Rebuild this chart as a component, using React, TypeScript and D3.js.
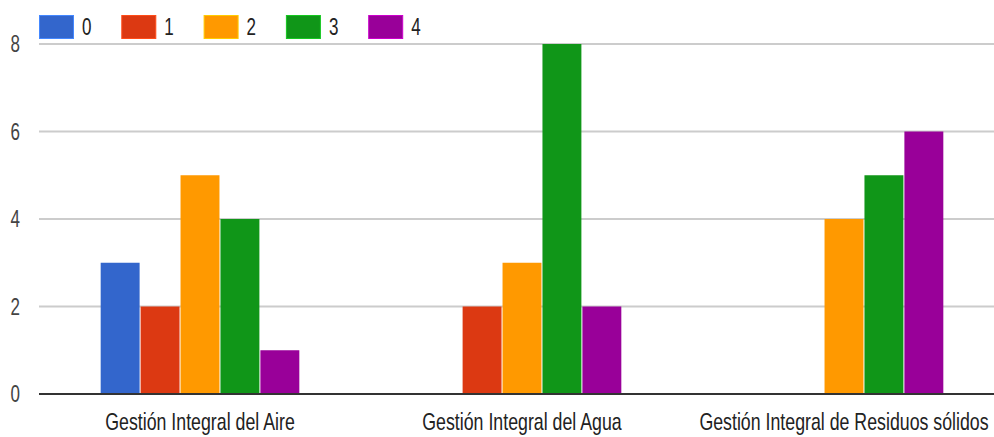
import React from "react";
import * as d3 from "d3";

const categories = [
  "Gestión Integral del Aire",
  "Gestión Integral del Agua",
  "Gestión Integral de Residuos sólidos",
];
const seriesNames = ["0", "1", "2", "3", "4"];
const seriesColors = ["#3366cc", "#dc3912", "#ff9900", "#109618", "#990099"];
const valuesAire = [3, 2, 5, 4, 1];
const valuesAgua = [0, 2, 3, 8, 2];
const valuesResiduos = [0, 0, 4, 5, 6];
const yTicks = [0, 2, 4, 6, 8];

const W = 994;
const H = 437;
const FONT = "'Liberation Sans', Arial, sans-serif";
const SX = 0.74; // narrow horizontal text scale

export default function App() {
  const rows = [valuesAire, valuesAgua, valuesResiduos];
  const x0 = d3
    .scaleBand<string>()
    .domain(categories)
    .range([39, 1005])
    .paddingInner(0.38)
    .paddingOuter(0.19);
  const x1 = d3
    .scaleBand<string>()
    .domain(seriesNames)
    .range([0, x0.bandwidth()])
    .padding(0);
  const y = d3.scaleLinear().domain([0, 8]).range([394, 44]);

  const legendStep = 82.3;

  return (
    <svg
      width={W}
      height={H}
      style={{ position: "absolute", left: 0, top: 0, background: "#fff" }}
      fontFamily={FONT}
    >
      {/* gridlines */}
      {yTicks.map((t) => (
        <line
          key={"g" + t}
          x1={39}
          x2={W}
          y1={y(t)}
          y2={y(t)}
          stroke="#cccccc"
          strokeWidth={2}
        />
      ))}
      {/* y tick labels */}
      {yTicks.map((t) => (
        <text
          key={"t" + t}
          transform={`translate(20,${y(t) + 8}) scale(${SX},1)`}
          textAnchor="end"
          fontSize={23}
          fill="#444"
        >
          {t}
        </text>
      ))}
      {/* bars */}
      {rows.map((vals, ci) => (
        <g key={"c" + ci} transform={`translate(${x0(categories[ci])},0)`}>
          {vals.map((v, si) =>
            v > 0 ? (
              <rect
                key={si}
                x={(x1(seriesNames[si]) as number) + 0.5}
                y={y(v)}
                width={x1.bandwidth() - 1}
                height={y(0) - y(v)}
                fill={seriesColors[si]}
              />
            ) : null
          )}
        </g>
      ))}
      {/* baseline */}
      <line x1={39} x2={W} y1={y(0)} y2={y(0)} stroke="#333" strokeWidth={2} />
      {/* category labels */}
      {categories.map((c) => (
        <text
          key={c}
          transform={`translate(${(x0(c) as number) + x0.bandwidth() / 2},430) scale(${SX},1)`}
          textAnchor="middle"
          fontSize={24}
          fill="#222"
        >
          {c}
        </text>
      ))}
      {/* legend */}
      {seriesNames.map((s, i) => {
        const lx = 39 + i * legendStep;
        return (
          <g key={"l" + s}>
            <rect
              x={lx + 0.5}
              y={15.5}
              width={34}
              height={23}
              fill={seriesColors[i]}
              stroke={d3.color(seriesColors[i])!.brighter(0.8).formatHex()}
              strokeWidth={1}
            />
            <text
              transform={`translate(${lx + 43},35) scale(${SX},1)`}
              fontSize={23}
              fill="#222"
            >
              {s}
            </text>
          </g>
        );
      })}
    </svg>
  );
}
